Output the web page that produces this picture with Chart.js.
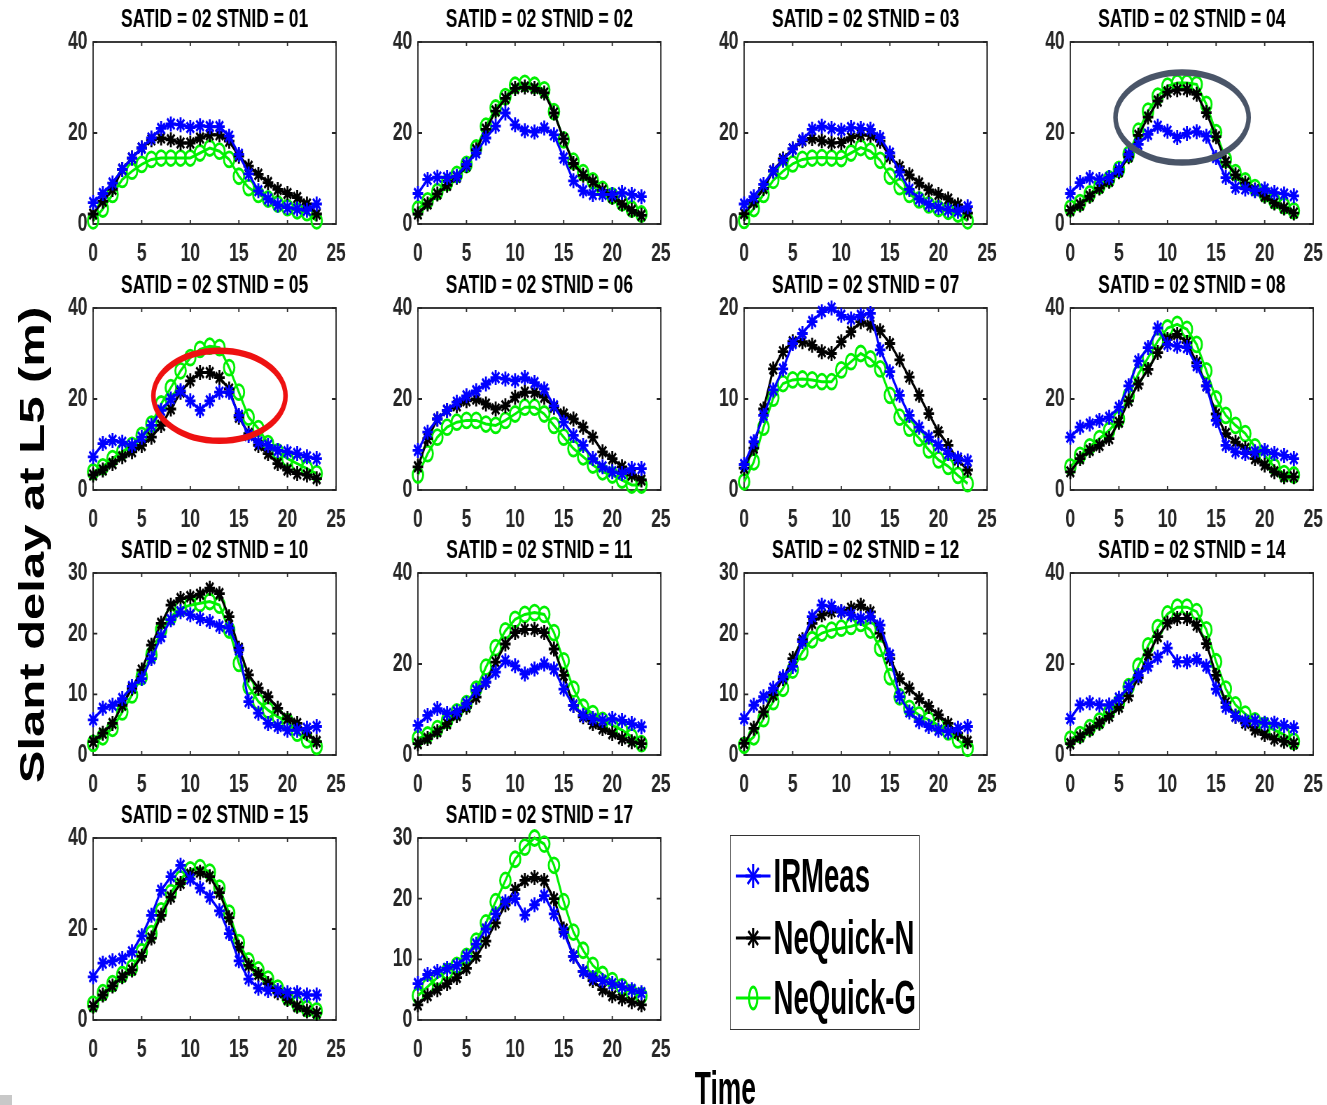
<!DOCTYPE html>
<html>
<head>
<meta charset="utf-8">
<script src="https://cdn.jsdelivr.net/npm/chart.js@4.4.0/dist/chart.umd.min.js"></script>
<style>
html, body { margin: 0; padding: 0; background: #fff; }
body { width: 1327px; height: 1105px; overflow: hidden; position: relative; }
#fig { position: absolute; left: 0; top: 0; width: 1896px; height: 1105px; transform: scaleX(0.7); transform-origin: 0 0; }
#fig canvas { position: absolute; }
#ylab { position: absolute; left: -257px; top: 520px; width: 600px; height: 50px; line-height: 50px; text-align: center;
        font: bold 49px 'Liberation Sans', Arial, sans-serif; color: #000; transform: rotate(-90deg); white-space: nowrap; }
#xlab { position: absolute; left: 936px; top: 1061px; width: 200px; height: 46px; line-height: 46px; text-align: center;
        font: bold 46px 'Liberation Sans', Arial, sans-serif; color: #000; }
#xlab span { display: inline-block; transform: scaleX(0.82); }
#legend { position: absolute; left: 1043px; top: 835px; width: 271px; height: 195px; box-sizing: border-box;
          border: 1.5px solid #333; background: #fff; }
.lrow { position: absolute; left: 7px; height: 50px; width: 260px; }
.lrow svg { position: absolute; left: 0; top: 5px; }
.lrow span { position: absolute; left: 54px; top: 1px; font: bold 48px 'Liberation Sans', Arial, sans-serif; line-height: 48px;
             color: #000; white-space: nowrap; transform: scaleX(0.82); transform-origin: 0 50%; }
#corner { position: absolute; left: 0; top: 1095px; width: 12px; height: 10px; background: #c8c8c8; }
</style>
</head>
<body>
<div id="fig">
  <div id="ylab">Slant delay at L5 (m)</div>
  <div id="xlab"><span>Time</span></div>
  <div id="legend">
    <div class="lrow" style="top:15px">
      <svg width="50" height="40"><line x1="0" y1="20" x2="50" y2="20" stroke="#0000ff" stroke-width="3"/>
        <g stroke="#0000ff" stroke-width="3"><line x1="25" y1="8" x2="25" y2="32"/><line x1="14" y1="20" x2="36" y2="20"/><line x1="17" y1="12" x2="33" y2="28"/><line x1="17" y1="28" x2="33" y2="12"/></g></svg>
      <span>IRMeas</span>
    </div>
    <div class="lrow" style="top:77px">
      <svg width="50" height="40"><line x1="0" y1="20" x2="50" y2="20" stroke="#000" stroke-width="3"/>
        <g stroke="#000" stroke-width="3"><line x1="25" y1="10" x2="25" y2="30"/><line x1="15" y1="20" x2="35" y2="20"/><line x1="18" y1="13" x2="32" y2="27"/><line x1="18" y1="27" x2="32" y2="13"/></g></svg>
      <span>NeQuick-N</span>
    </div>
    <div class="lrow" style="top:137px">
      <svg width="50" height="40"><line x1="0" y1="20" x2="50" y2="20" stroke="#00f000" stroke-width="3"/>
        <ellipse cx="25" cy="20" rx="6" ry="11" fill="none" stroke="#00f000" stroke-width="3"/></svg>
      <span>NeQuick-G</span>
    </div>
  </div>
</div>
<div id="corner"></div>
<script>
// hours of the day, one sample per hour
const hours = [0, 1, 2, 3, 4, 5, 6, 7, 8, 9, 10, 11, 12, 13, 14, 15, 16, 17, 18, 19, 20, 21, 22, 23];
const stnids = ['01', '02', '03', '04', '05', '06', '07', '08', '10', '11', '12', '14', '15', '17'];
const yMaxes = [40, 40, 40, 40, 40, 40, 20, 40, 30, 40, 30, 40, 40, 30];

const ir01 = [4.7, 6.7, 9, 12, 14.5, 16.7, 18.9, 21, 22, 21.8, 21.2, 21.6, 21.4, 21.4, 19.3, 15.3, 11, 7.3, 5.5, 4.2, 3.6, 3.3, 3, 4.4];
const nn01 = [2.2, 5, 7.6, 12, 14.5, 16.7, 18.5, 18.9, 18.5, 17.8, 17.8, 18.9, 19.6, 19.6, 18.2, 14.9, 12.7, 10.9, 9.1, 7.6, 6.7, 5.8, 4.4, 2.2];
const ng01 = [0.7, 3.3, 6.5, 9.8, 11.6, 13.1, 14.2, 14.5, 14.5, 14.5, 14.5, 15.6, 16.7, 16, 14.2, 10.5, 8, 6.5, 5.5, 4.4, 3.6, 2.9, 2.5, 0.7];

const ir02 = [6.7, 9.8, 10.3, 10.2, 10.5, 13.1, 15.6, 18.9, 21.5, 24.4, 21.8, 20.5, 20.2, 21.1, 19.6, 14.5, 9.5, 7.3, 6.5, 6.5, 6.5, 6.9, 6.5, 6];
const nn02 = [2.2, 4.4, 6.6, 8.5, 10.3, 12.8, 16.3, 20.8, 24.8, 27.6, 29.8, 30.1, 29.8, 28.8, 24.4, 18.7, 13.3, 10.7, 9.3, 7.4, 5.9, 4.4, 3, 1.9];
const ng02 = [3.3, 5.1, 7.1, 9.1, 10.9, 13.1, 16.7, 21.5, 25.5, 28, 30.5, 30.9, 30.5, 29.5, 24.7, 18.5, 13.8, 11.3, 9.5, 7.6, 6.2, 4.7, 3.3, 2.2];

const ir03 = [4.4, 6, 8.7, 11.6, 14, 16.5, 18.5, 20.8, 21.5, 21, 20.6, 21.2, 21, 20.8, 19, 15.6, 11.4, 7.6, 5.5, 4.3, 3.6, 3.1, 2.8, 3.8];
const nn03 = [2.3, 4.8, 7.8, 11.7, 14.3, 16.5, 18.3, 18.8, 18.3, 17.8, 17.9, 19, 19.6, 19.5, 18.2, 14.8, 12.6, 10.8, 9, 7.5, 6.5, 5.5, 4.2, 2.4];
const ng03 = [0.8, 3.4, 6.5, 9.6, 11.6, 13.2, 14.2, 14.5, 14.6, 14.5, 14.4, 15.6, 16.8, 16, 14, 10.5, 8.2, 6.5, 5.3, 4.2, 3.4, 2.8, 2.2, 0.7];

const ir04 = [6.7, 9.1, 10.2, 9.8, 10.2, 12, 15.3, 17.5, 19.7, 21.5, 20.4, 19, 19.9, 20.3, 19.3, 14.6, 10.2, 8, 7.7, 7.3, 7.7, 6.9, 6.6, 6.2];
const nn04 = [3, 4.2, 6.1, 7.9, 9.4, 11.5, 14.8, 19.5, 23.5, 27, 29, 29.5, 29.5, 28.5, 24.5, 19.2, 13.6, 10.8, 9, 7.5, 6.1, 4.6, 3.5, 2.4];
const ng04 = [3.5, 4.7, 6.6, 8.4, 9.9, 12, 15.3, 20.4, 24.8, 28.1, 30.3, 31, 31, 30.7, 26.3, 20.1, 14.2, 11.3, 9.5, 8, 6.6, 5.1, 4, 2.9];

const ir05 = [7.3, 10.2, 10.9, 10.5, 9.8, 11.6, 14.2, 17.5, 20, 21.8, 19.6, 17.5, 19.6, 21.5, 21.5, 16.4, 12, 10.5, 9.8, 8.7, 8.4, 8, 7.3, 6.9];
const nn05 = [3.3, 4.4, 5.8, 7.3, 8.4, 9.8, 11.6, 14.2, 17.8, 21.5, 24, 25.8, 25.8, 24.7, 22.2, 16, 12.4, 9.8, 8, 5.8, 4.4, 3.6, 3.3, 2.5];
const ng05 = [4, 5.1, 6.9, 8.4, 9.8, 12, 14.5, 18.9, 22.5, 26.2, 29.1, 30.9, 31.6, 31.3, 26.9, 21.5, 16, 13.5, 10.2, 8.4, 6.9, 5.8, 4.7, 3.6];

const ir06 = [8.7, 12.7, 15.6, 17.5, 19.3, 20.7, 21.8, 23.3, 24.7, 24.4, 24, 24.7, 23.6, 22.2, 18.5, 14.9, 12, 9.8, 6.9, 5.1, 4, 3.6, 4.7, 4.7];
const nn06 = [5.1, 11.3, 15.6, 17.5, 18.5, 19.6, 20, 18.9, 17.8, 18.5, 20.4, 21.5, 21.5, 20.4, 18.2, 16.7, 15.6, 13.8, 11.6, 8.4, 6.9, 5.1, 3.3, 2.2];
const ng06 = [3.3, 8, 11.6, 13.8, 14.9, 15.3, 15.3, 14.5, 14.2, 15.3, 16.7, 18.2, 18.2, 16.7, 14.2, 11.6, 9.1, 7.3, 5.5, 4, 3.3, 2.2, 1.1, 1.1];

const ir07 = [2.8, 5.3, 8.2, 11, 13.3, 16.1, 17.2, 18.5, 19.6, 20, 19.2, 18.8, 19.2, 19.4, 15.4, 13, 10.4, 8.2, 6.9, 5.8, 4.9, 4, 3.5, 3.2];
const nn07 = [2.4, 4.6, 8.9, 13.3, 15.2, 16.3, 16.3, 15.9, 15.2, 15, 16.3, 17.4, 18.5, 18.1, 17.5, 16.1, 14.3, 12.4, 10.4, 8.4, 6.4, 4.9, 3.3, 2.2];
const ng07 = [0.9, 3.1, 6.9, 10.1, 11.7, 12.1, 12.2, 12.1, 11.9, 11.9, 13.2, 14.1, 15, 14.4, 13.3, 10.4, 8, 6.8, 5.7, 4.4, 3.3, 2.6, 1.6, 0.7];

const ir08 = [11.6, 13.8, 14.5, 15.3, 16, 18.2, 22.9, 28.4, 31.3, 35.6, 32, 31.6, 31.3, 27.3, 22.9, 15.3, 9.8, 8.4, 8, 8.4, 8.7, 8, 7.6, 6.9];
const nn08 = [4, 6.9, 8.7, 9.8, 11.3, 14.9, 19.6, 23.3, 26.5, 30.2, 33.1, 34.2, 32.4, 28, 22.9, 16.7, 12.4, 10.5, 9.1, 6.9, 5.5, 4, 2.9, 2.9];
const ng08 = [5.1, 7.6, 9.5, 11.3, 13.1, 15.6, 20.7, 25.5, 29.1, 32.7, 35.6, 36.4, 35.3, 32, 26.2, 20, 16.4, 14.2, 12.4, 9.5, 7.6, 5.1, 3.6, 3.3];

const ir10 = [5.8, 7.7, 8.2, 9.3, 11.3, 12.6, 15.9, 19.5, 22.3, 23.6, 23.1, 22.5, 22, 21.2, 20.9, 17.3, 8.8, 6.9, 5.2, 4.7, 4.1, 4.1, 4.4, 4.7];
const nn10 = [2.2, 3.6, 5.2, 8.2, 11, 14, 18.1, 21.7, 24.7, 25.8, 26.1, 26.5, 27.5, 26.6, 22.8, 17.6, 13.2, 11, 9.6, 7.7, 6, 5.2, 3.6, 2.2];
const ng10 = [1.9, 3, 4.4, 7.1, 9.9, 12.9, 16.5, 20.6, 22.8, 24.2, 24.7, 25, 25.3, 24.7, 20.6, 15.1, 11.3, 8.8, 7.4, 6.3, 5.5, 3.6, 2.5, 1.4];

const ir11 = [6.5, 8.7, 10.2, 9.1, 9.5, 11.3, 14.2, 16, 18.2, 20.7, 19.6, 17.8, 18.9, 20, 18.9, 14.5, 10.9, 8.7, 8, 7.6, 8, 7.6, 6.9, 6.2];
const nn11 = [2.5, 3.6, 5.1, 6.9, 8.7, 10.5, 12.7, 16, 20.4, 24.4, 26.9, 27.6, 27.6, 26.9, 23.3, 17.5, 10.9, 8.4, 6.9, 5.8, 4.7, 3.6, 2.9, 2.5];
const ng11 = [3.6, 4.4, 5.8, 7.6, 9.5, 11.3, 14.5, 19.3, 23.6, 27.3, 29.8, 30.9, 31.3, 30.9, 26.9, 20.7, 14.5, 10.5, 9.1, 7.6, 6.5, 5.5, 4, 2.5];

const ir12 = [6, 8.2, 9.6, 11, 12.9, 14.6, 18.7, 22.8, 24.7, 24.5, 23.6, 23.1, 22.5, 22.8, 21.4, 16.5, 9.6, 7.1, 5.5, 4.7, 4.1, 3.8, 4.4, 4.7];
const nn12 = [1.9, 4.4, 7.1, 9.9, 12.6, 15.9, 19, 21.7, 23.1, 23.6, 23.6, 24.2, 24.7, 23.6, 20.1, 15.9, 12.6, 11, 9.3, 8, 6.6, 5.2, 3.6, 2.2];
const ng12 = [1.6, 3, 6, 8.8, 11, 14, 17, 19, 20.1, 20.6, 20.9, 21.2, 21.7, 20.6, 17.6, 12.9, 9.6, 7.7, 6.6, 5.8, 4.9, 3.8, 2.5, 1.1];

const ir14 = [8, 11, 11.5, 11, 11, 12.5, 15, 17.5, 19.5, 21.5, 23.5, 20.5, 20.5, 21, 19.5, 14.5, 10.5, 8.5, 7.5, 7.5, 7, 7, 6.5, 6];
const nn14 = [2.5, 4, 5.5, 7, 8.5, 10.5, 13, 17, 22, 26, 29, 30, 30, 28.5, 24.5, 17.5, 11.5, 8.5, 7, 5.5, 4.5, 3.5, 3, 2.5];
const ng14 = [3.5, 4.5, 6, 7.5, 9.5, 11.5, 15, 19.5, 24, 28, 31, 32.5, 32.5, 31.5, 27.5, 20.5, 14.5, 11, 9, 7.5, 6.5, 5.5, 4.5, 3];

const ir15 = [9.5, 12.5, 13, 13.5, 15, 18.5, 23, 28.5, 31.5, 34, 31, 29, 27, 24, 19, 13, 9, 7, 6.5, 6.5, 6, 6, 5.5, 5.5];
const nn15 = [3, 5.5, 7.5, 9.5, 11, 14, 18, 23, 27, 30, 32, 32.5, 31.5, 28, 22.5, 16, 12, 10, 8, 6, 4.5, 3, 2, 1.5];
const ng15 = [3.5, 6, 8, 10, 11.5, 15, 19, 24, 28, 31, 33, 33.5, 32.5, 29, 23.5, 17, 13, 11, 9, 7, 5, 3.5, 2.5, 2];

const ir17 = [6, 7.5, 8, 8.5, 9, 10.5, 12.5, 15, 17.5, 19.5, 20, 17.3, 19, 20.5, 17.5, 14.5, 10.5, 8, 7, 6.5, 6, 5.5, 5, 4.5];
const nn17 = [2.5, 4, 5, 6, 7, 8.5, 10.5, 13, 16, 19, 21.5, 23, 23.5, 23, 20, 15, 10.5, 8, 6.5, 5, 4, 3.5, 3, 2.5];
const ng17 = [4, 5.5, 7, 8, 9, 10.5, 13, 16, 19.5, 23, 26.5, 28.5, 30, 29, 25.5, 19.5, 14.5, 11.5, 9, 7.5, 6.5, 5.5, 4.5, 4];

const irAll = [ir01, ir02, ir03, ir04, ir05, ir06, ir07, ir08, ir10, ir11, ir12, ir14, ir15, ir17];
const nnAll = [nn01, nn02, nn03, nn04, nn05, nn06, nn07, nn08, nn10, nn11, nn12, nn14, nn15, nn17];
const ngAll = [ng01, ng02, ng03, ng04, ng05, ng06, ng07, ng08, ng10, ng11, ng12, ng14, ng15, ng17];

// highlight rings (data coords: centre x, centre y, radius x, radius y)
const rings = {
    '04': { cx: 11.5, cy: 23.4, rx: 6.85, ry: 9.9, color: '#4a5568' },
    '05': { cx: 13.0, cy: 20.7, rx: 6.8, ry: 9.9, color: '#ee1111' }
};

// layout (reference pixels, the figure is squeezed horizontally by SX)
const SX = 0.7;
const colLeft = [93, 418, 744, 1070];
const rowTop = [42, 308, 573, 838];
const AXW = 45, PADR = 20, TITLEH = 37, PLOTH = 182, XAXH = 50;
const CW = 421, CH = TITLEH + PLOTH + XAXH;
const FONT = "'Liberation Sans', Arial, sans-serif";
const AXCOL = '#262626';

const fig = document.getElementById('fig');

function xy(arr) {
    return hours.map((h, k) => ({ x: h, y: arr[k] }));
}

function series(label, arr, color, style) {
    const circ = style === 'circle';
    return {
        label: label,
        data: xy(arr),
        borderColor: color,
        backgroundColor: color,
        borderWidth: 3,
        pointStyle: style,
        pointRadius: circ ? 7.5 : 7.5,
        pointBorderWidth: circ ? 2.8 : 2.8,
        pointBorderColor: color,
        pointBackgroundColor: 'rgba(0,0,0,0)',
        tension: 0,
        clip: false
    };
}

const boxPlugin = {
    id: 'matlabBox',
    beforeDatasetsDraw(chart) {
        const ctx = chart.ctx, a = chart.chartArea, x = chart.scales.x, y = chart.scales.y;
        ctx.save();
        ctx.strokeStyle = AXCOL;
        ctx.lineWidth = 1.8;
        ctx.strokeRect(a.left, a.top, a.right - a.left, a.bottom - a.top);
        ctx.beginPath();
        x.ticks.forEach(t => {
            const px = x.getPixelForValue(t.value);
            ctx.moveTo(px, a.bottom); ctx.lineTo(px, a.bottom - 4);
            ctx.moveTo(px, a.top); ctx.lineTo(px, a.top + 4);
        });
        y.ticks.forEach(t => {
            const py = y.getPixelForValue(t.value);
            ctx.moveTo(a.left, py); ctx.lineTo(a.left + 6, py);
            ctx.moveTo(a.right, py); ctx.lineTo(a.right - 6, py);
        });
        ctx.stroke();
        ctx.restore();
    }
};

function ringPlugin(r) {
    return {
        id: 'ring',
        afterDatasetsDraw(chart) {
            const ctx = chart.ctx, x = chart.scales.x, y = chart.scales.y;
            const cx = x.getPixelForValue(r.cx), cy = y.getPixelForValue(r.cy);
            const rx = x.getPixelForValue(r.cx + r.rx) - cx;
            const ry = cy - y.getPixelForValue(r.cy + r.ry);
            ctx.save();
            ctx.strokeStyle = r.color;
            ctx.lineWidth = 6.5;
            ctx.beginPath();
            ctx.ellipse(cx, cy, rx, ry, 0, 0, Math.PI * 2);
            ctx.stroke();
            ctx.restore();
        }
    };
}

stnids.forEach(function(id, i) {
    const row = Math.floor(i / 4), col = i % 4;
    const cv = document.createElement('canvas');
    cv.width = CW;
    cv.height = CH;
    cv.style.left = (colLeft[col] / SX - AXW) + 'px';
    cv.style.top = (rowTop[row] - TITLEH) + 'px';
    fig.appendChild(cv);

    const yMax = yMaxes[i];
    const tickFont = { family: FONT, size: 25, weight: 'bold' };
    const plugins = [boxPlugin];
    if (rings[id]) plugins.push(ringPlugin(rings[id]));

    new Chart(cv, {
        type: 'line',
        data: {
            datasets: [
                series('IRMeas', irAll[i], '#0000ff', 'star'),
                series('NeQuick-N', nnAll[i], '#000000', 'star'),
                series('NeQuick-G', ngAll[i], '#00f000', 'circle')
            ]
        },
        options: {
            responsive: false,
            animation: false,
            devicePixelRatio: 1,
            events: [],
            layout: { padding: { top: 0, left: 0, bottom: 0, right: PADR } },
            plugins: {
                legend: { display: false },
                tooltip: { enabled: false },
                title: {
                    display: true,
                    text: 'SATID = 02 STNID = ' + id,
                    fullSize: false,
                    color: '#000',
                    font: { family: FONT, size: 25, weight: 'bold', lineHeight: 1.2 },
                    padding: { top: 0, bottom: 7 }
                }
            },
            scales: {
                x: {
                    type: 'linear', min: 0, max: 25,
                    grid: { display: false, drawTicks: false },
                    border: { display: false },
                    ticks: { stepSize: 5, padding: 15, maxRotation: 0, autoSkip: false, color: AXCOL, font: tickFont },
                    afterFit: function(s) { s.height = XAXH; }
                },
                y: {
                    type: 'linear', min: 0, max: yMax,
                    grid: { display: false, drawTicks: false },
                    border: { display: false },
                    ticks: { stepSize: yMax === 40 ? 20 : 10, padding: 8, color: AXCOL, font: tickFont },
                    afterFit: function(s) { s.width = AXW; }
                }
            }
        },
        plugins: plugins
    });
});
</script>
</body>
</html>
